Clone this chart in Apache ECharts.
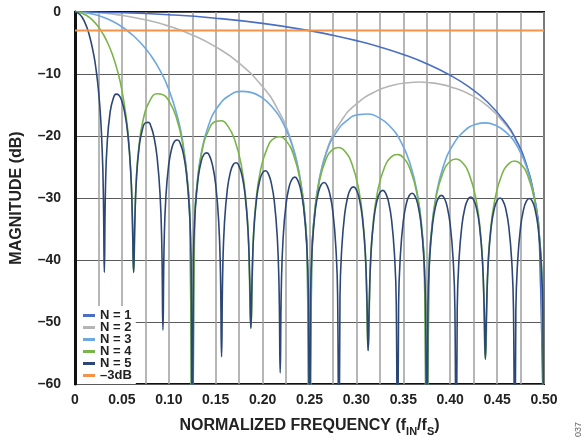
<!DOCTYPE html>
<html>
<head>
    <meta charset="UTF-8">
    <title>Magnitude response, N = 1 to 5</title>
    <script src="https://cdn.jsdelivr.net/npm/echarts@6/dist/echarts.min.js"></script>
    <style>
        html, body { margin: 0; padding: 0; background: #fff; }
        #chart { width: 587px; height: 442px; }
    </style>
</head>
<body>
<div id="chart"></div>
<script type="text/javascript">
    // values: [normalized frequency, magnitude dB]
    var n1 = [[0,0],[0.05,-0.11],[0.1,-0.44],[0.15,-1.0],[0.2,-1.84],[0.25,-3.01],[0.275,-3.75],[0.3,-4.62],[0.325,-5.64],
        [0.35,-6.86],[0.375,-8.34],[0.4,-10.2],[0.42,-12.09],[0.44,-14.55],[0.46,-18.04],[0.47,-20.53],[0.48,-24.04],
        [0.49,-30.06],[0.495,-36.08],[0.5,-80]];

    var n2 = [[0,0],[0.025,-0.13],[0.05,-0.54],[0.075,-1.25],[0.1,-2.28],[0.125,-3.7],[0.15,-5.62],[0.175,-8.24],[0.2,-12.04],
        [0.215,-15.38],[0.23,-20.54],[0.24,-26.79],[0.245,-32.93],[0.248,-40.97],[0.25,-80],
        [0.252,-41.1],[0.255,-33.21],[0.26,-27.33],[0.27,-21.63],[0.285,-17.3],[0.3,-14.82],[0.32,-12.84],[0.34,-11.76],
        [0.355,-11.41],[0.367,-11.28],[0.38,-11.43],[0.39,-11.67],[0.4,-12.04],[0.42,-13.23],[0.44,-15.18],[0.46,-18.32],
        [0.47,-20.68],[0.48,-24.11],[0.49,-30.08],[0.495,-36.08],[0.5,-80]];

    var n3 = [[0,0],[0.01,-0.09],[0.02,-0.36],[0.03,-0.83],[0.04,-1.49],[0.05,-2.38],[0.06,-3.54],[0.07,-4.99],[0.08,-6.84],
        [0.09,-9.24],[0.1,-12.48],[0.11,-17.34],[0.115,-21.11],[0.12,-27.42],[0.1225,-33.59],[0.125,-80],
        [0.1275,-33.92],[0.13,-28.08],[0.135,-22.44],[0.1425,-18.21],[0.1525,-15.25],[0.165,-13.43],[0.1775,-12.81],[0.1875,-12.96],
        [0.1975,-13.63],[0.21,-15.28],[0.2225,-18.14],[0.2325,-21.97],[0.24,-26.86],[0.245,-32.95],[0.2475,-39.02],[0.25,-80],
        [0.2525,-39.16],[0.255,-33.23],[0.26,-27.41],[0.2675,-22.93],[0.2775,-19.65],[0.29,-17.49],[0.3025,-16.55],[0.3125,-16.46],
        [0.3225,-16.92],[0.335,-18.31],[0.3475,-20.93],[0.3575,-24.58],[0.365,-29.35],[0.37,-35.36],[0.3725,-41.39],[0.375,-80],
        [0.3775,-41.44],[0.38,-35.47],[0.385,-29.57],[0.3925,-24.98],[0.4025,-21.56],[0.415,-19.21],[0.4275,-18.12],[0.4375,-17.89],
        [0.4475,-18.22],[0.46,-19.46],[0.4725,-21.94],[0.4825,-25.47],[0.49,-30.15],[0.495,-36.1],[0.4975,-42.1],[0.5,-80]];

    var n4 = [[0,0],[0.005,-0.09],[0.01,-0.37],[0.015,-0.84],[0.02,-1.51],[0.025,-2.41],[0.03,-3.57],[0.035,-5.04],[0.04,-6.91],
        [0.045,-9.33],[0.05,-12.59],[0.055,-17.47],[0.0575,-21.26],[0.06,-27.58],[0.061,-32.14],[0.0625,-42],
        [0.064,-32.55],[0.065,-28.26],[0.0675,-22.63],[0.0725,-17.5],[0.08,-14.26],[0.0875,-13.19],[0.09375,-13.34],[0.1,-14.32],
        [0.1075,-16.75],[0.115,-21.39],[0.12,-27.49],[0.1225,-33.61],[0.125,-80],
        [0.1275,-33.94],[0.13,-28.15],[0.135,-22.71],[0.1425,-19.07],[0.15,-17.66],[0.15625,-17.55],[0.1625,-18.3],[0.17,-20.48],
        [0.1775,-24.9],[0.1825,-30.86],[0.185,-36.91],[0.1875,-51],
        [0.19,-37.12],[0.1925,-31.26],[0.1975,-25.72],[0.205,-21.92],[0.2125,-20.35],[0.21875,-20.13],[0.225,-20.77],[0.2325,-22.83],
        [0.24,-27.13],[0.245,-33.02],[0.2475,-39.04],[0.25,-80],
        [0.2525,-39.18],[0.255,-33.29],[0.26,-27.68],[0.2675,-23.79],[0.275,-22.14],[0.28125,-21.85],[0.2875,-22.42],[0.295,-24.41],
        [0.3025,-28.63],[0.3075,-34.47],[0.31,-40.47],[0.3125,-54.6],
        [0.315,-40.56],[0.3175,-34.66],[0.3225,-29.0],[0.33,-25.04],[0.3375,-23.33],[0.34375,-22.99],[0.35,-23.52],[0.3575,-25.45],
        [0.365,-29.62],[0.37,-35.42],[0.3725,-41.41],[0.375,-80],
        [0.3775,-41.46],[0.38,-35.54],[0.385,-29.85],[0.3925,-25.84],[0.4,-24.08],[0.40625,-23.7],[0.4125,-24.19],[0.42,-26.07],
        [0.4275,-30.2],[0.4325,-35.97],[0.435,-41.94],[0.4375,-56],
        [0.44,-41.97],[0.4425,-36.03],[0.4475,-30.31],[0.455,-26.26],[0.4625,-24.46],[0.46875,-24.04],[0.475,-24.49],[0.4825,-26.33],
        [0.49,-30.42],[0.495,-36.17],[0.4975,-42.12],[0.5,-80]];

    var n5 = [[0,0],[0.005,-0.37],[0.01,-1.51],[0.015,-3.58],[0.02,-6.93],[0.0225,-9.35],[0.025,-12.61],[0.0275,-17.5],
        [0.0295,-24.57],[0.03,-27.62],[0.0305,-32.18],[0.03125,-42],
        [0.0325,-28.31],[0.034375,-20.95],[0.0375,-16.11],[0.040625,-14.03],[0.04375,-13.24],[0.046875,-13.43],[0.05,-14.4],[0.053125,-16.34],[0.05625,-19.61],[0.059375,-25.67],[0.06125,-33.77],[0.0625,-42],
        [0.06375,-34.12],[0.065625,-26.52],[0.06875,-21.33],[0.071875,-18.94],[0.075,-17.89],[0.078125,-17.81],[0.08125,-18.57],[0.084375,-20.3],[0.0875,-23.39],[0.090625,-29.27],[0.0925,-37.29],[0.09375,-51.3],
        [0.095,-37.51],[0.096875,-29.84],[0.1,-24.51],[0.103125,-22.0],[0.10625,-20.83],[0.109375,-20.65],[0.1125,-21.31],[0.115625,-22.95],[0.11875,-25.94],[0.121875,-31.75],[0.12375,-39.72],[0.125,-80],
        [0.12625,-39.88],[0.128125,-32.16],[0.13125,-26.77],[0.134375,-24.2],[0.1375,-22.97],[0.140625,-22.72],[0.14375,-23.33],[0.146875,-24.91],[0.15,-27.85],[0.153125,-33.61],[0.155,-41.55],[0.15625,-55.6],
        [0.1575,-41.68],[0.159375,-33.93],[0.1625,-28.49],[0.165625,-25.87],[0.16875,-24.6],[0.171875,-24.32],[0.175,-24.89],[0.178125,-26.44],[0.18125,-29.35],[0.184375,-35.07],[0.18625,-42.99],[0.1875,-51],
        [0.18875,-43.09],[0.190625,-35.33],[0.19375,-29.86],[0.196875,-27.21],[0.2,-25.92],[0.203125,-25.6],[0.20625,-26.14],[0.209375,-27.67],[0.2125,-30.55],[0.215625,-36.25],[0.2175,-44.15],[0.21875,-58.2],
        [0.22,-44.23],[0.221875,-36.45],[0.225,-30.96],[0.228125,-28.29],[0.23125,-26.98],[0.234375,-26.64],[0.2375,-27.17],[0.240625,-28.67],[0.24375,-31.53],[0.246875,-37.2],[0.24875,-45.1],[0.25,-80],
        [0.25125,-45.16],[0.253125,-37.37],[0.25625,-31.86],[0.259375,-29.18],[0.2625,-27.85],[0.265625,-27.5],[0.26875,-28.0],[0.271875,-29.49],[0.275,-32.33],[0.278125,-38.0],[0.28,-45.88],[0.28125,-80],
        [0.2825,-45.94],[0.284375,-38.14],[0.2875,-32.61],[0.290625,-29.91],[0.29375,-28.56],[0.296875,-28.2],[0.3,-28.69],[0.303125,-30.16],[0.30625,-32.99],[0.309375,-38.64],[0.31125,-46.52],[0.3125,-54.6],
        [0.31375,-46.56],[0.315625,-38.75],[0.31875,-33.22],[0.321875,-30.5],[0.325,-29.15],[0.328125,-28.77],[0.33125,-29.25],[0.334375,-30.71],[0.3375,-33.52],[0.340625,-39.16],[0.3425,-47.03],[0.34375,-80],
        [0.345,-47.07],[0.346875,-39.25],[0.35,-33.71],[0.353125,-30.98],[0.35625,-29.62],[0.359375,-29.23],[0.3625,-29.7],[0.365625,-31.15],[0.36875,-33.95],[0.371875,-39.58],[0.37375,-47.44],[0.375,-80],
        [0.37625,-47.47],[0.378125,-39.65],[0.38125,-34.09],[0.384375,-31.36],[0.3875,-29.98],[0.390625,-29.58],[0.39375,-30.04],[0.396875,-31.48],[0.4,-34.27],[0.403125,-39.89],[0.405,-47.75],[0.40625,-80],
        [0.4075,-47.77],[0.409375,-39.94],[0.4125,-34.38],[0.415625,-31.63],[0.41875,-30.25],[0.421875,-29.84],[0.425,-30.29],[0.428125,-31.72],[0.43125,-34.5],[0.434375,-40.11],[0.43625,-47.96],[0.4375,-56],
        [0.43875,-47.98],[0.440625,-40.15],[0.44375,-34.57],[0.446875,-31.82],[0.45,-30.42],[0.453125,-30.01],[0.45625,-30.45],[0.459375,-31.87],[0.4625,-34.65],[0.465625,-40.25],[0.4675,-48.1],[0.46875,-80],
        [0.47,-48.1],[0.471875,-40.27],[0.475,-34.69],[0.478125,-31.92],[0.48125,-30.52],[0.484375,-30.09],[0.4875,-30.52],[0.490625,-31.93],[0.49375,-34.71],[0.496875,-40.3],[0.49875,-48.14],[0.5,-80]];

    var minus3dB = [[0,-3],[0.5,-3]];

    var seriesNames = ['N = 1', 'N = 2', 'N = 3', 'N = 4', 'N = 5', '\u20133dB'];
    var xTickLabels = ['0', '0.05', '0.10', '0.15', '0.20', '0.25', '0.30', '0.35', '0.40', '0.45', '0.50'];
    var yTickLabels = ['\u201360', '\u201350', '\u201340', '\u201330', '\u201320', '\u201310', '0'];

    var FONT = '"Liberation Sans", Arial, Helvetica, sans-serif';

    var chart = echarts.init(document.getElementById('chart'), null, {renderer: 'canvas'});

    function curve(name, data, color, width) {
        return {
            name: name,
            type: 'line',
            data: data,
            color: color,
            symbol: 'none',
            showSymbol: false,
            smooth: 0.5,
            clip: true,
            lineStyle: {color: color, width: width || 1.6},
            emphasis: {disabled: true}
        };
    }

    var option = {
        animation: false,
        backgroundColor: '#fff',
        grid: {
            left: 75, right: 43, top: 12, bottom: 54,
            show: true,
            borderColor: '#111',
            borderWidth: 2
        },
        legend: {
            data: seriesNames,
            orient: 'vertical',
            left: 77,
            top: 306,
            backgroundColor: '#fff',
            padding: [3, 4, 2, 6],
            itemGap: -1,
            itemWidth: 12,
            itemHeight: 3,
            icon: 'rect',
            textStyle: {fontFamily: FONT, fontSize: 13, fontWeight: 'bold', color: '#222', lineHeight: 12}
        },
        xAxis: {
            type: 'value',
            min: 0,
            max: 0.5,
            interval: 0.025,
            name: '{m|NORMALIZED FREQUENCY (f}{s|IN}{m|/f}{s|S}{m|)}',
            nameLocation: 'middle',
            nameGap: 31,
            nameTextStyle: {
                rich: {
                    m: {fontFamily: FONT, fontSize: 16, fontWeight: 'bold', color: '#222', lineHeight: 22},
                    s: {fontFamily: FONT, fontSize: 11, fontWeight: 'bold', color: '#222', lineHeight: 10, verticalAlign: 'bottom'}
                }
            },
            axisLine: {show: false},
            axisTick: {show: false},
            axisLabel: {
                margin: 9,
                fontFamily: FONT, fontSize: 14, fontWeight: 'bold', color: '#222',
                formatter: function (v) {
                    var k = Math.round(v * 1000);
                    if (k % 50 !== 0) return '';
                    return xTickLabels[k / 50];
                }
            },
            splitLine: {show: true, lineStyle: {color: '#9e9e9e', width: 1.5}}
        },
        yAxis: {
            type: 'value',
            min: -60,
            max: 0,
            interval: 10,
            name: 'MAGNITUDE (dB)',
            nameLocation: 'middle',
            nameGap: 50,
            nameTextStyle: {fontFamily: FONT, fontSize: 16, fontWeight: 'bold', color: '#222'},
            axisLine: {show: true, lineStyle: {color: '#111', width: 3}},
            axisTick: {show: false},
            axisLabel: {
                margin: 14,
                fontFamily: FONT, fontSize: 14, fontWeight: 'bold', color: '#222',
                formatter: function (v) {
                    return yTickLabels[Math.round((v + 60) / 10)];
                }
            },
            splitLine: {show: true, lineStyle: {color: '#5a5a5a', width: 1}}
        },
        graphic: [{
            type: 'text',
            x: 579,
            y: 437,
            rotation: Math.PI / 2,
            style: {text: '037', fontFamily: FONT, fontSize: 9, fill: '#666', textVerticalAlign: 'middle'}
        }],
        series: [
            curve(seriesNames[1], n2, '#b5b5b5'),
            curve(seriesNames[0], n1, '#4b6fc4'),
            curve(seriesNames[2], n3, '#6ea8de'),
            curve(seriesNames[3], n4, '#7bb54a'),
            curve(seriesNames[4], n5, '#2c4775'),
            curve(seriesNames[5], minus3dB, '#f5924a', 2)
        ]
    };

    chart.setOption(option);
</script>
</body>
</html>
